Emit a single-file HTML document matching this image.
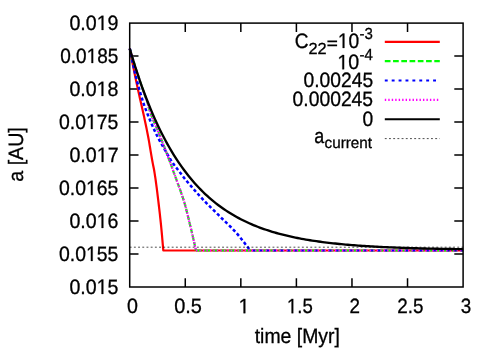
<!DOCTYPE html>
<html><head><meta charset="utf-8"><title>plot</title>
<style>html,body{margin:0;padding:0;background:#fff}svg{display:block;opacity:0.999;will-change:transform}text{text-rendering:geometricPrecision}</style></head>
<body>
<svg width="498" height="349" viewBox="0 0 498 349">
<rect width="498" height="349" fill="#fff"/>
<g stroke="#000" stroke-width="1.5" fill="none" stroke-linecap="butt">
<path d="M129.7 56.09h8.8 M463.1 56.09h-8.8"/>
<path d="M129.7 89.07h8.8 M463.1 89.07h-8.8"/>
<path d="M129.7 122.06h8.8 M463.1 122.06h-8.8"/>
<path d="M129.7 155.05h8.8 M463.1 155.05h-8.8"/>
<path d="M129.7 188.04h8.8 M463.1 188.04h-8.8"/>
<path d="M129.7 221.02h8.8 M463.1 221.02h-8.8"/>
<path d="M129.7 254.01h8.8 M463.1 254.01h-8.8"/>
<path d="M185.27 287.0v-8.8 M185.27 23.1v8.8"/>
<path d="M240.83 287.0v-8.8 M240.83 23.1v8.8"/>
<path d="M296.40 287.0v-8.8 M296.40 23.1v8.8"/>
<path d="M351.97 287.0v-8.8 M351.97 23.1v8.8"/>
<path d="M407.53 287.0v-8.8 M407.53 23.1v8.8"/>
</g>
<g font-family="Liberation Sans, sans-serif" font-size="20.8" fill="#000" stroke="#000" stroke-width="0.3" font-kerning="none" style="font-kerning:none">
<text transform="translate(69.43 30.00) scale(0.9432 1)">0.0</text>
<path d="M515 0V1237L197 1010V1180L530 1409H696V0Z" transform="translate(96.71 30.00) scale(0.009580 -0.010156)" vector-effect="non-scaling-stroke"/>
<text transform="translate(107.62 30.00) scale(0.9432 1)">9</text>
<text transform="translate(60.26 62.99) scale(0.9139 1)">0.0</text>
<path d="M515 0V1237L197 1010V1180L530 1409H696V0Z" transform="translate(86.68 62.99) scale(0.009282 -0.010156)" vector-effect="non-scaling-stroke"/>
<text transform="translate(97.25 62.99) scale(0.9139 1)">85</text>
<text transform="translate(69.43 95.97) scale(0.9417 1)">0.0</text>
<path d="M515 0V1237L197 1010V1180L530 1409H696V0Z" transform="translate(96.66 95.97) scale(0.009564 -0.010156)" vector-effect="non-scaling-stroke"/>
<text transform="translate(107.56 95.97) scale(0.9417 1)">8</text>
<text transform="translate(59.04 128.96) scale(0.9333 1)">0.0</text>
<path d="M515 0V1237L197 1010V1180L530 1409H696V0Z" transform="translate(86.03 128.96) scale(0.009479 -0.010156)" vector-effect="non-scaling-stroke"/>
<text transform="translate(96.82 128.96) scale(0.9333 1)">75</text>
<text transform="translate(69.43 161.95) scale(0.9444 1)">0.0</text>
<path d="M515 0V1237L197 1010V1180L530 1409H696V0Z" transform="translate(96.74 161.95) scale(0.009591 -0.010156)" vector-effect="non-scaling-stroke"/>
<text transform="translate(107.66 161.95) scale(0.9444 1)">7</text>
<text transform="translate(59.04 194.94) scale(0.9333 1)">0.0</text>
<path d="M515 0V1237L197 1010V1180L530 1409H696V0Z" transform="translate(86.03 194.94) scale(0.009479 -0.010156)" vector-effect="non-scaling-stroke"/>
<text transform="translate(96.82 194.94) scale(0.9333 1)">65</text>
<text transform="translate(69.43 227.92) scale(0.9419 1)">0.0</text>
<path d="M515 0V1237L197 1010V1180L530 1409H696V0Z" transform="translate(96.67 227.92) scale(0.009566 -0.010156)" vector-effect="non-scaling-stroke"/>
<text transform="translate(107.57 227.92) scale(0.9419 1)">6</text>
<text transform="translate(59.04 260.91) scale(0.9333 1)">0.0</text>
<path d="M515 0V1237L197 1010V1180L530 1409H696V0Z" transform="translate(86.03 260.91) scale(0.009479 -0.010156)" vector-effect="non-scaling-stroke"/>
<text transform="translate(96.82 260.91) scale(0.9333 1)">55</text>
<text transform="translate(69.44 293.90) scale(0.9411 1)">0.0</text>
<path d="M515 0V1237L197 1010V1180L530 1409H696V0Z" transform="translate(96.65 293.90) scale(0.009558 -0.010156)" vector-effect="non-scaling-stroke"/>
<text transform="translate(107.54 293.90) scale(0.9411 1)">5</text>
<text transform="translate(126.93 313.20) scale(0.9454 1)">0</text>
<text transform="translate(174.22 313.20) scale(0.9585 1)">0.5</text>
<path d="M515 0V1237L197 1010V1180L530 1409H696V0Z" transform="translate(238.61 313.20) scale(0.009619 -0.010156)" vector-effect="non-scaling-stroke"/>
<path d="M515 0V1237L197 1010V1180L530 1409H696V0Z" transform="translate(286.91 313.20) scale(0.009087 -0.010156)" vector-effect="non-scaling-stroke"/>
<text transform="translate(297.26 313.20) scale(0.8948 1)">.5</text>
<text transform="translate(354.77 313.20) scale(0.905 1)" text-anchor="middle">2</text>
<text transform="translate(410.33 313.20) scale(0.905 1)" text-anchor="middle">2.5</text>
<text transform="translate(465.90 313.20) scale(0.905 1)" text-anchor="middle">3</text>
<text transform="translate(254.71 342.50) scale(0.9331 1)">time [Myr]</text>
<text transform="translate(22.7 181.73) rotate(-90) scale(0.9435 1)">a [AU]</text>
<text transform="translate(294.73 47.90) scale(0.9186 1)">C</text>
<text transform="translate(308.48 53.80) scale(1.0193 1)" font-size="16.0">22</text>
<path d="M327.4 40.5h9.7v1.7h-9.7z M327.4 44.5h9.7v1.7h-9.7z" stroke="none"/>
<path d="M515 0V1237L197 1010V1180L530 1409H696V0Z" transform="translate(337.85 47.90) scale(0.009395 -0.010156)" vector-effect="non-scaling-stroke"/>
<text transform="translate(348.55 47.90) scale(0.9251 1)">0</text>
<text transform="translate(359.43 38.70) scale(0.9366 1)" font-size="16.0">-3</text>
<path d="M515 0V1237L197 1010V1180L530 1409H696V0Z" transform="translate(337.41 69.30) scale(0.009595 -0.010156)" vector-effect="non-scaling-stroke"/>
<text transform="translate(348.34 69.30) scale(0.9448 1)">0</text>
<text transform="translate(359.44 59.50) scale(0.9351 1)" font-size="16.0">-4</text>
<text transform="translate(303.45 87.00) scale(0.9265 1)">0.00245</text>
<text transform="translate(292.55 106.10) scale(0.9287 1)">0.000245</text>
<text transform="translate(362.45 125.70) scale(0.9253 1)">0</text>
<text transform="translate(314.14 143.00) scale(0.8611 1)">a</text>
<text transform="translate(324.55 148.40) scale(0.9796 1)" font-size="15.6">current</text>
</g>
<g fill="none" stroke-width="2.2" stroke-linejoin="round">
<path d="M129.80 48.60 L130.29 51.16 L130.78 53.71 L131.26 56.27 L131.75 58.82 L132.23 61.38 L132.72 63.93 L133.21 66.49 L133.71 69.05 L134.22 71.60 L134.73 74.16 L135.25 76.71 L135.78 79.27 L136.32 81.82 L136.87 84.38 L137.42 86.94 L137.97 89.49 L138.53 92.05 L139.10 94.60 L139.67 97.16 L140.24 99.71 L140.82 102.27 L141.41 104.83 L142.01 107.38 L142.59 109.94 L143.15 112.49 L143.70 115.05 L144.26 117.60 L144.80 120.16 L145.34 122.72 L145.88 125.27 L146.40 127.83 L146.92 130.38 L147.42 132.94 L147.92 135.49 L148.40 138.05 L148.87 140.61 L149.31 143.16 L149.74 145.72 L150.17 148.27 L150.59 150.83 L151.01 153.38 L151.44 155.94 L151.88 158.49 L152.33 161.05 L152.82 163.61 L153.35 166.16 L153.87 168.72 L154.31 171.27 L154.72 173.83 L155.11 176.38 L155.49 178.94 L155.85 181.50 L156.20 184.05 L156.54 186.61 L156.87 189.16 L157.19 191.72 L157.51 194.27 L157.82 196.83 L158.13 199.39 L158.43 201.94 L158.74 204.50 L159.04 207.05 L159.34 209.61 L159.63 212.16 L159.91 214.72 L160.19 217.28 L160.47 219.83 L160.74 222.39 L161.00 224.94 L161.25 227.50 L161.51 230.05 L161.75 232.61 L161.98 235.17 L162.20 237.72 L162.43 240.28 L162.64 242.83 L162.86 245.39 L163.08 247.94 L163.30 250.50 L463.10 250.50" stroke="#ff0000"/>
<path d="M129.80 48.60 L130.57 51.16 L131.33 53.71 L132.09 56.27 L132.84 58.82 L133.60 61.38 L134.36 63.93 L135.13 66.49 L135.92 69.05 L136.71 71.60 L137.53 74.16 L138.36 76.71 L139.23 79.27 L140.11 81.82 L141.01 84.38 L141.92 86.94 L142.82 89.49 L143.74 92.05 L144.69 94.60 L145.64 97.16 L146.55 99.71 L147.38 102.27 L148.10 104.83 L148.78 107.38 L149.54 109.94 L150.41 112.49 L151.34 115.05 L152.32 117.60 L153.35 120.16 L154.42 122.72 L155.50 125.27 L156.59 127.83 L157.68 130.38 L158.75 132.94 L159.80 135.49 L160.81 138.05 L161.81 140.61 L162.81 143.16 L163.80 145.72 L164.78 148.27 L165.77 150.83 L166.74 153.38 L167.71 155.94 L168.68 158.49 L169.64 161.05 L170.59 163.61 L171.52 166.16 L172.44 168.72 L173.35 171.27 L174.28 173.83 L175.21 176.38 L176.16 178.94 L177.10 181.50 L178.04 184.05 L178.98 186.61 L179.90 189.16 L180.81 191.72 L181.70 194.27 L182.56 196.83 L183.39 199.39 L184.19 201.94 L184.96 204.50 L185.66 207.05 L186.31 209.61 L186.94 212.16 L187.58 214.72 L188.22 217.28 L188.85 219.83 L189.47 222.39 L190.09 224.94 L190.70 227.50 L191.31 230.05 L191.91 232.61 L192.51 235.17 L193.09 237.72 L193.68 240.28 L194.26 242.83 L194.84 245.39 L195.42 247.94 L196.00 250.50" stroke="#00ff00" stroke-dasharray="4.7 2.1"/>
<path d="M196.00 250.5H463.1" stroke="#00ff00" stroke-dasharray="5.7 2.55"/>
<path d="M129.80 48.60 L130.35 51.16 L130.88 53.71 L131.41 56.27 L131.94 58.82 L132.47 61.38 L133.00 63.93 L133.55 66.49 L134.11 69.05 L134.69 71.60 L135.30 74.16 L135.92 76.71 L136.56 79.27 L137.22 81.82 L137.90 84.38 L138.59 86.94 L139.30 89.49 L140.03 92.05 L140.79 94.60 L141.56 97.16 L142.37 99.71 L143.19 102.27 L144.05 104.83 L144.96 107.38 L145.91 109.94 L146.90 112.49 L147.92 115.05 L148.96 117.60 L150.03 120.16 L151.10 122.72 L152.20 125.27 L153.33 127.83 L154.50 130.38 L155.70 132.94 L156.95 135.49 L158.24 138.05 L159.60 140.61 L161.02 143.16 L162.49 145.72 L163.97 148.27 L165.45 150.83 L166.92 153.38 L168.36 155.94 L169.84 158.49 L171.41 161.05 L173.15 163.61 L175.09 166.16 L177.11 168.72 L179.09 171.27 L181.02 173.83 L182.96 176.38 L184.97 178.94 L187.08 181.50 L189.26 184.05 L191.47 186.61 L193.69 189.16 L195.92 191.72 L198.18 194.27 L200.49 196.83 L202.86 199.39 L205.32 201.94 L207.84 204.50 L210.41 207.05 L213.01 209.61 L215.62 212.16 L218.21 214.72 L220.78 217.28 L223.39 219.83 L226.04 222.39 L228.68 224.94 L231.27 227.50 L233.76 230.05 L236.11 232.61 L238.31 235.17 L240.41 237.72 L242.42 240.28 L244.39 242.83 L246.34 245.39 L248.30 247.94 L250.30 250.50" stroke="#0000ff" stroke-width="2.5" stroke-dasharray="3.2 2.4"/>
<path d="M250.30 250.5H463.1" stroke="#0000ff" stroke-dasharray="2.9 4.05" stroke-dashoffset="-2"/>
<path d="M129.80 48.60 L130.57 51.16 L131.33 53.71 L132.09 56.27 L132.84 58.82 L133.60 61.38 L134.36 63.93 L135.13 66.49 L135.92 69.05 L136.71 71.60 L137.53 74.16 L138.36 76.71 L139.23 79.27 L140.11 81.82 L141.01 84.38 L141.92 86.94 L142.82 89.49 L143.74 92.05 L144.69 94.60 L145.64 97.16 L146.55 99.71 L147.38 102.27 L148.10 104.83 L148.78 107.38 L149.54 109.94 L150.41 112.49 L151.34 115.05 L152.32 117.60 L153.35 120.16 L154.42 122.72 L155.50 125.27 L156.59 127.83 L157.68 130.38 L158.75 132.94 L159.80 135.49 L160.81 138.05 L161.81 140.61 L162.81 143.16 L163.80 145.72 L164.78 148.27 L165.77 150.83 L166.74 153.38 L167.71 155.94 L168.68 158.49 L169.64 161.05 L170.59 163.61 L171.52 166.16 L172.44 168.72 L173.35 171.27 L174.28 173.83 L175.21 176.38 L176.16 178.94 L177.10 181.50 L178.04 184.05 L178.98 186.61 L179.90 189.16 L180.81 191.72 L181.70 194.27 L182.56 196.83 L183.39 199.39 L184.19 201.94 L184.96 204.50 L185.66 207.05 L186.31 209.61 L186.94 212.16 L187.58 214.72 L188.22 217.28 L188.85 219.83 L189.47 222.39 L190.09 224.94 L190.70 227.50 L191.31 230.05 L191.91 232.61 L192.51 235.17 L193.09 237.72 L193.68 240.28 L194.26 242.83 L194.84 245.39 L195.42 247.94 L196.00 250.50" stroke="#ff00ff" stroke-dasharray="1.4 1.4"/>
<path d="M196.00 250.5H463.1" stroke="#ff00ff" stroke-dasharray="1.4 2.075"/>
<path d="M129.70 48.60 L131.80 55.69 L133.89 62.53 L135.99 69.12 L138.09 75.48 L140.18 81.61 L142.28 87.53 L144.38 93.23 L146.47 98.73 L148.57 104.04 L150.67 109.16 L152.77 114.10 L154.86 118.86 L156.96 123.45 L159.06 127.88 L161.15 132.16 L163.25 136.28 L165.35 140.25 L167.44 144.09 L169.54 147.79 L171.64 151.36 L173.73 154.80 L175.83 158.12 L177.93 161.33 L180.02 164.42 L182.12 167.40 L184.22 170.28 L186.32 173.05 L188.41 175.73 L190.51 178.32 L192.61 180.81 L194.70 183.21 L196.80 185.53 L198.90 187.77 L200.99 189.93 L203.09 192.02 L205.19 194.03 L207.28 195.97 L209.38 197.84 L211.48 199.65 L213.57 201.39 L215.67 203.07 L217.77 204.70 L219.86 206.26 L221.96 207.78 L224.06 209.24 L226.16 210.64 L228.25 212.00 L230.35 213.31 L232.45 214.58 L234.54 215.80 L236.64 216.98 L238.74 218.12 L240.83 219.22 L242.93 220.28 L245.03 221.30 L247.12 222.29 L249.22 223.24 L251.32 224.16 L253.41 225.05 L255.51 225.90 L257.61 226.73 L259.71 227.53 L261.80 228.30 L263.90 229.04 L266.00 229.76 L268.09 230.45 L270.19 231.12 L272.29 231.77 L274.38 232.39 L276.48 233.00 L278.58 233.58 L280.67 234.14 L282.77 234.68 L284.87 235.20 L286.96 235.71 L289.06 236.20 L291.16 236.67 L293.25 237.12 L295.35 237.56 L297.45 237.98 L299.55 238.39 L301.64 238.79 L303.74 239.17 L305.84 239.54 L307.93 239.89 L310.03 240.24 L312.13 240.57 L314.22 240.89 L316.32 241.20 L318.42 241.49 L320.51 241.78 L322.61 242.06 L324.71 242.33 L326.80 242.59 L328.90 242.84 L331.00 243.08 L333.09 243.32 L335.19 243.54 L337.29 243.76 L339.39 243.97 L341.48 244.18 L343.58 244.37 L345.68 244.56 L347.77 244.74 L349.87 244.92 L351.97 245.09 L354.06 245.26 L356.16 245.42 L358.26 245.57 L360.35 245.72 L362.45 245.86 L364.55 246.00 L366.64 246.14 L368.74 246.27 L370.84 246.39 L372.94 246.51 L375.03 246.63 L377.13 246.74 L379.23 246.85 L381.32 246.96 L383.42 247.06 L385.52 247.16 L387.61 247.25 L389.71 247.35 L391.81 247.43 L393.90 247.52 L396.00 247.60 L398.10 247.68 L400.19 247.76 L402.29 247.83 L404.39 247.91 L406.48 247.98 L408.58 248.04 L410.68 248.11 L412.78 248.17 L414.87 248.23 L416.97 248.29 L419.07 248.35 L421.16 248.40 L423.26 248.46 L425.36 248.51 L427.45 248.56 L429.55 248.61 L431.65 248.65 L433.74 248.70 L435.84 248.74 L437.94 248.78 L440.03 248.82 L442.13 248.86 L444.23 248.90 L446.33 248.93 L448.42 248.97 L450.52 249.00 L452.62 249.04 L454.71 249.07 L456.81 249.10 L458.91 249.13 L461.00 249.16 L463.10 249.19" stroke="#000" stroke-width="2.35"/>
</g>
<path d="M129.7 247.2H463.1" stroke="#000" stroke-width="0.7" stroke-dasharray="1.9 2.3" fill="none"/>
<g fill="none" stroke-width="2.2">
<path d="M384.8 41.80H439.8" stroke="#ff0000"/>
<path d="M384.8 61.16H439.8" stroke="#00ff00" stroke-dasharray="5.7 2.55"/>
<path d="M384.8 80.52H439.8" stroke="#0000ff" stroke-dasharray="2.9 4"/>
<path d="M384.8 99.88H439.8" stroke="#ff00ff" stroke-dasharray="1.4 2.07"/>
<path d="M384.8 119.24H439.8" stroke="#000"/>
</g>
<path d="M384.8 138.60H439.8" stroke="#000" stroke-width="0.7" stroke-dasharray="1.9 2.3" fill="none"/>
<rect x="129.7" y="23.1" width="333.40" height="263.90" fill="none" stroke="#000" stroke-width="1.5"/>
</svg>
</body></html>
